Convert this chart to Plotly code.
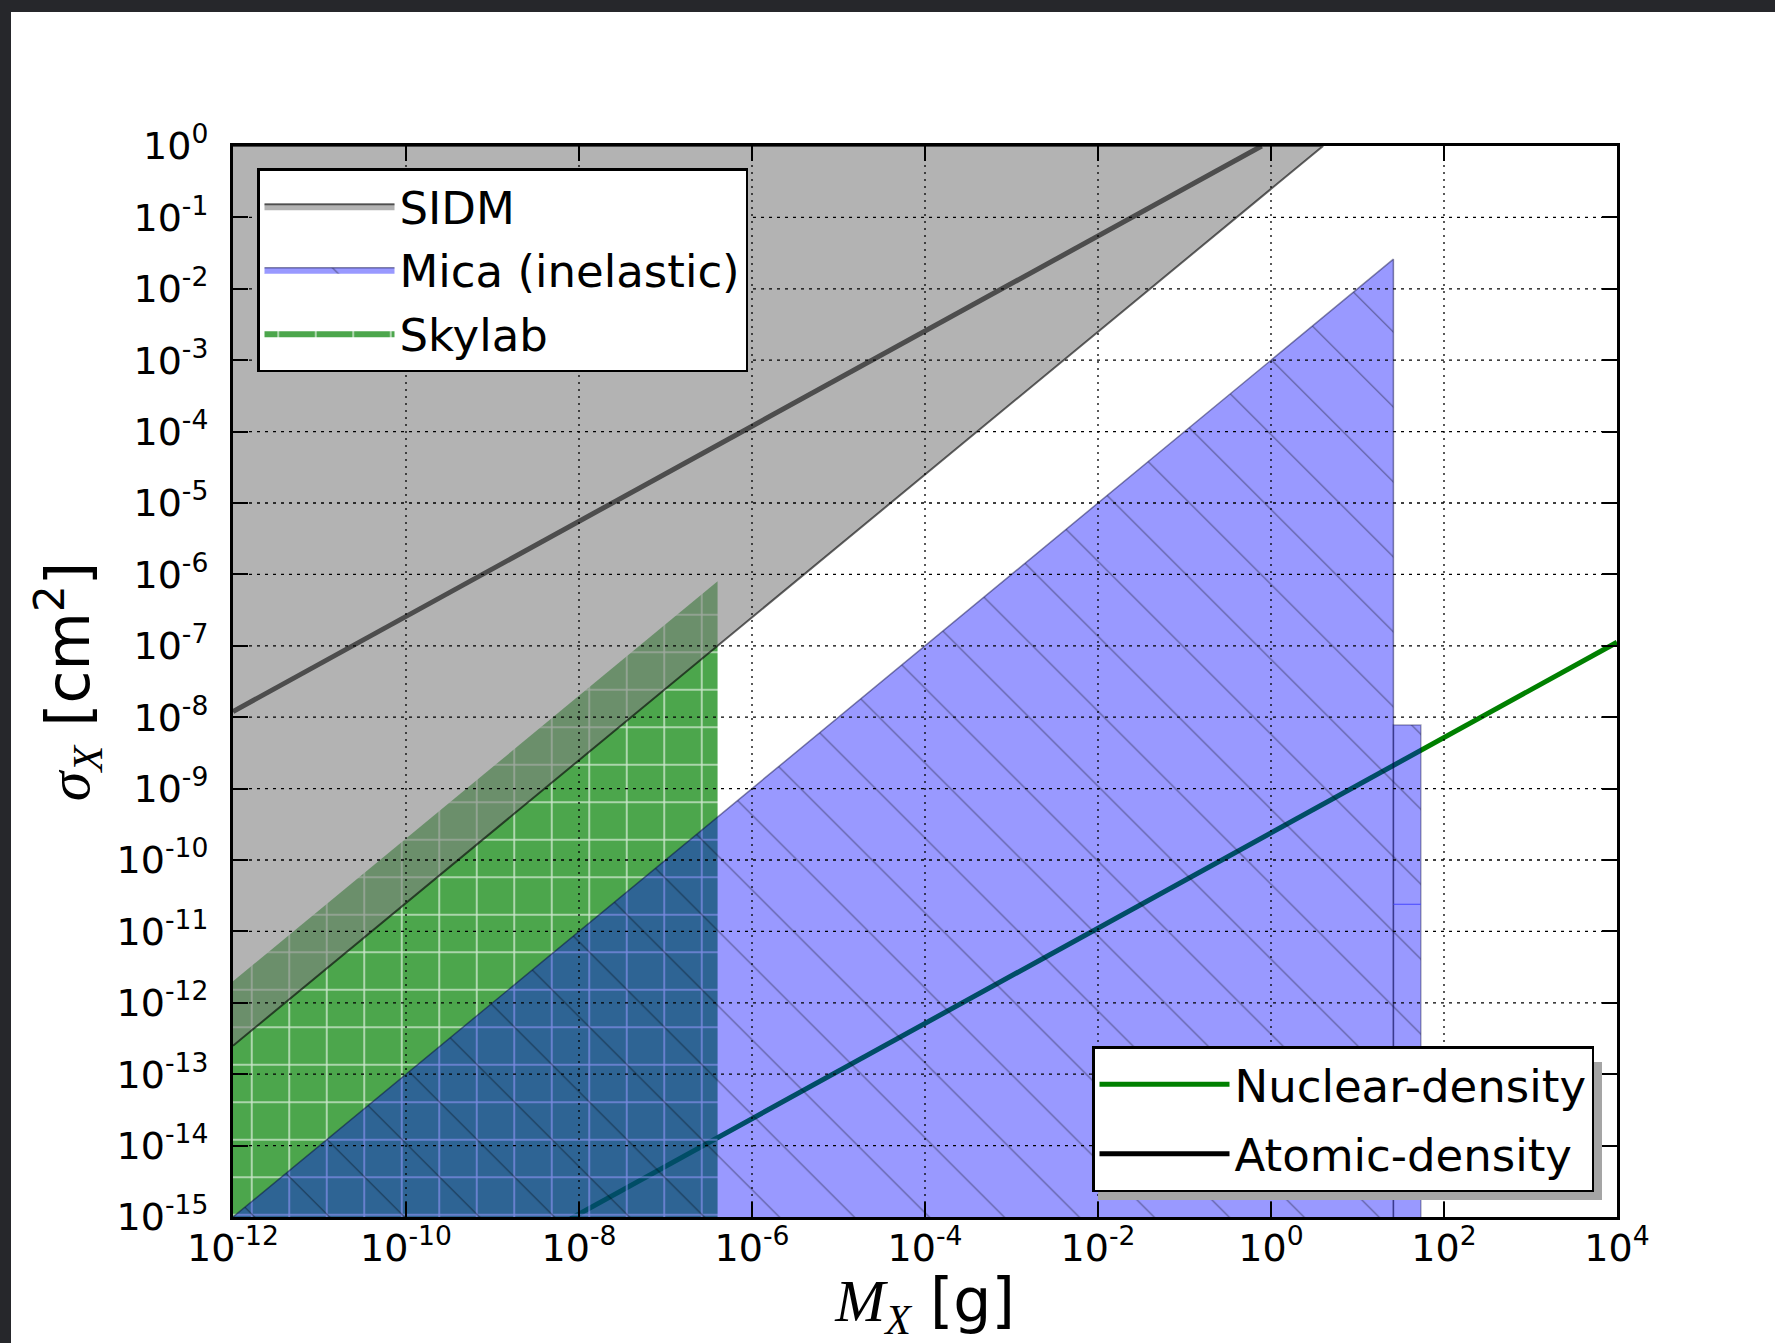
import plotly.graph_objects as go

# ---------------- data ----------------
mass_tick_vals = [1e-12, 1e-10, 1e-8, 1e-6, 1e-4, 1e-2, 1e0, 1e2, 1e4]
mass_tick_text = ["10<sup>-12</sup>", "10<sup>-10</sup>", "10<sup>-8</sup>", "10<sup>-6</sup>",
                  "10<sup>-4</sup>", "10<sup>-2</sup>", "10<sup>0</sup>", "10<sup>2</sup>", "10<sup>4</sup>"]
sigma_tick_vals = [1e-15, 1e-14, 1e-13, 1e-12, 1e-11, 1e-10, 1e-9, 1e-8,
                   1e-7, 1e-6, 1e-5, 1e-4, 1e-3, 1e-2, 1e-1, 1e0]
sigma_tick_text = ["10<sup>-15</sup>", "10<sup>-14</sup>", "10<sup>-13</sup>", "10<sup>-12</sup>",
                   "10<sup>-11</sup>", "10<sup>-10</sup>", "10<sup>-9</sup>", "10<sup>-8</sup>",
                   "10<sup>-7</sup>", "10<sup>-6</sup>", "10<sup>-5</sup>", "10<sup>-4</sup>",
                   "10<sup>-3</sup>", "10<sup>-2</sup>", "10<sup>-1</sup>", "10<sup>0</sup>"]

# SIDM excluded region (above sigma/M boundary)
sidm_mass = [1e-12, 4.0, 1e-12]
sidm_sigma = [2.5e-13, 1.0, 1.0]

# Skylab excluded band
skylab_mass = [1e-12, 4.0e-7, 4.0e-7, 1e-12]
skylab_sigma = [1e-15, 1e-15, 8.0e-7, 2.0e-12]

# Mica (inelastic) excluded region
mica_mass = [1e-12, 26.0, 26.0]
mica_sigma = [1e-15, 2.6e-2, 1e-15]
mica_step_mass = [26.0, 26.0, 54.0, 54.0]
mica_step_sigma = [1e-15, 7.8e-9, 7.8e-9, 1e-15]
mica_inner_mass = [26.0, 54.0]
mica_inner_sigma = [2.4e-11, 2.4e-11]

# density lines
nuclear_mass = [8.0e-9, 1e4]
nuclear_sigma = [9.5e-16, 1.12e-7]
atomic_mass = [1e-12, 0.78]
atomic_sigma = [1.2e-8, 1.0]

FONT = "DejaVu Sans"
SERIF = "Liberation Serif"

fig = go.Figure()

# density lines (drawn first, so that the fills tint them)
fig.add_trace(go.Scatter(x=atomic_mass, y=atomic_sigma, mode="lines", name="Atomic-density",
                         line=dict(color="black", width=5), legend="legend2", legendrank=2,
                         legendgroup="atom"))
fig.add_trace(go.Scatter(x=nuclear_mass, y=nuclear_sigma, mode="lines", name="Nuclear-density",
                         line=dict(color="rgb(0,128,0)", width=5), legend="legend2", legendrank=1,
                         legendgroup="nuc"))

# Skylab
fig.add_trace(go.Scatter(x=skylab_mass, y=skylab_sigma, mode="lines", fill="toself", name="Skylab",
                         fillcolor="rgba(0,128,0,0.7)",
                         fillpattern=dict(shape="+", size=37.5, solidity=0.08, fgcolor="white",
                                          fgopacity=0.7, bgcolor="rgba(0,128,0,0.7)"),
                         line=dict(width=0, color="rgba(0,128,0,0)"), legendrank=3, legendgroup="sky"))

# SIDM
fig.add_trace(go.Scatter(x=sidm_mass, y=sidm_sigma, mode="lines", fill="toself", name="SIDM",
                         fillcolor="rgba(128,128,128,0.6)",
                         line=dict(width=2, color="rgba(0,0,0,0.6)"), legendrank=1, legendgroup="sidm"))

# Mica
mica_pattern = dict(shape="\\", size=53, solidity=0.02, fgcolor="black", fgopacity=0.45,
                    bgcolor="rgba(0,0,255,0.4)")
fig.add_trace(go.Scatter(x=mica_mass, y=mica_sigma, mode="lines", fill="toself", name="Mica (inelastic)",
                         fillcolor="rgba(0,0,255,0.4)", fillpattern=mica_pattern,
                         line=dict(width=1.5, color="rgba(0,0,60,0.45)"), legendrank=2, legendgroup="mica"))
fig.add_trace(go.Scatter(x=mica_step_mass, y=mica_step_sigma, mode="lines", fill="toself",
                         fillcolor="rgba(0,0,255,0.4)", fillpattern=mica_pattern, showlegend=False,
                         line=dict(width=1.5, color="rgba(0,0,60,0.35)")))
fig.add_trace(go.Scatter(x=mica_inner_mass, y=mica_inner_sigma, mode="lines", showlegend=False,
                         line=dict(width=1, color="rgb(70,70,255)")))

# dotted grid on top of the fills
vx, vy = [], []
for t in mass_tick_vals[1:-1]:
    vx += [t, t, None]
    vy += [sigma_tick_vals[0], sigma_tick_vals[-1], None]
hx, hy = [], []
for t in sigma_tick_vals[1:-1]:
    hx += [mass_tick_vals[0], mass_tick_vals[-1], None]
    hy += [t, t, None]
fig.add_trace(go.Scatter(x=vx, y=vy, mode="lines", showlegend=False, hoverinfo="skip",
                         line=dict(color="black", width=1.3, dash="2px,5px")))
fig.add_trace(go.Scatter(x=hx, y=hy, mode="lines", showlegend=False, hoverinfo="skip",
                         line=dict(color="black", width=1.3, dash="3px,5px")))

# geometry
W, H = 1775, 1343
L, R, T, B = 233, 158, 146, 126
PW, PH = W - L - R, H - T - B

axis_common = dict(type="log", showgrid=False, zeroline=False, showline=True, linecolor="black",
                   linewidth=3, mirror="ticks", ticks="inside", ticklen=15, tickwidth=1.5,
                   tickcolor="black", automargin=False,
                   tickfont=dict(family=FONT, size=38, color="black"))

fig.update_layout(
    width=W, height=H, autosize=False,
    margin=dict(l=L, r=R, t=T, b=B, pad=0),
    paper_bgcolor="white", plot_bgcolor="white",
    font=dict(family=FONT, color="black"),
    xaxis=dict(range=[-12, 4], tickvals=mass_tick_vals, ticktext=mass_tick_text,
               ticklabelstandoff=-5,
               title=dict(text=f"<span style='font-family:{SERIF}'><i>M</i><sub><i>X</i></sub></span> [g]",
                          font=dict(family=FONT, size=60), standoff=8),
               **axis_common),
    yaxis=dict(range=[-15, 0], tickvals=sigma_tick_vals, ticktext=sigma_tick_text,
               ticklabelstandoff=14,
               title=dict(text=f"<span style='font-family:{SERIF}'><i>σ</i><sub><i>X</i></sub></span> [cm<sup>2</sup>]",
                          font=dict(family=FONT, size=60), standoff=8),
               **axis_common),
    legend=dict(x=(257 - L) / PW, y=1 - (168 - T) / PH, xanchor="left", yanchor="top",
                bgcolor="white", bordercolor="black", borderwidth=2.5,
                font=dict(family=FONT, size=45, color="black"), itemwidth=130,
                traceorder="grouped", tracegroupgap=2),
    legend2=dict(x=(1594 - L) / PW, y=1 - (1192 - T) / PH, xanchor="right", yanchor="bottom",
                 bgcolor="white", bordercolor="black", borderwidth=2.5,
                 font=dict(family=FONT, size=45, color="black"), itemwidth=130,
                 traceorder="grouped", tracegroupgap=8),
    showlegend=True,
)

# drop shadow behind the lower-right legend
fig.add_shape(type="rect", xref="paper", yref="paper", layer="above",
              x0=(1098 - L) / PW, x1=(1602 - L) / PW, y0=1 - (1200 - T) / PH, y1=1 - (1062 - T) / PH,
              fillcolor="rgb(165,165,165)", line=dict(width=0))

# dark slide frame at the top and left edges of the picture
frame_col = "#26272b"
fig.add_shape(type="rect", xref="paper", yref="paper", layer="above",
              x0=-L / PW, x1=(W - L) / PW, y0=1 + (T - 12) / PH, y1=1 + T / PH,
              fillcolor=frame_col, line=dict(width=0))
fig.add_shape(type="rect", xref="paper", yref="paper", layer="above",
              x0=-L / PW, x1=-(L - 11) / PW, y0=-B / PH, y1=1 + T / PH,
              fillcolor=frame_col, line=dict(width=0))

fig.write_html("out.html")
